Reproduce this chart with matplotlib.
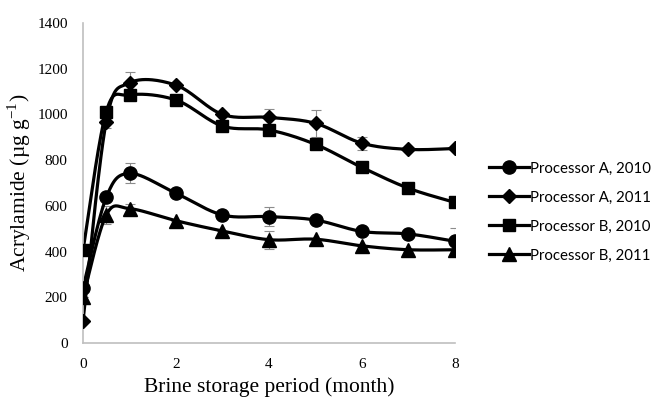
import numpy as np
import matplotlib
matplotlib.use("Agg")
import matplotlib.pyplot as plt
from matplotlib.lines import Line2D

months = [0, 0.5, 1, 2, 3, 4, 5, 6, 7, 8]

a_2010 = [240, 637, 742, 655, 560, 553, 538, 488, 477, 445]
a_2011 = [95, 968, 1138, 1128, 1000, 987, 961, 874, 847, 851]
b_2010 = [405, 1012, 1085, 1063, 949, 932, 869, 768, 677, 615]
b_2011 = [200, 560, 588, 535, 490, 452, 454, 425, 408, 408]

a_2010_err = [0, 0, 44, 0, 0, 41, 0, 0, 0, 58]
a_2011_err = [0, 26, 48, 0, 0, 35, 58, 29, 0, 0]
b_2010_err = [0, 0, 0, 0, 0, 0, 0, 0, 0, 0]
b_2011_err = [0, 40, 22, 0, 0, 40, 0, 0, 0, 0]

labels = ["Processor A, 2010", "Processor A, 2011",
          "Processor B, 2010", "Processor B, 2011"]
markers = ["o", "D", "s", "^"]
msizes = [9.5, 7.5, 9, 9.5]


def smooth(x, y, sx=46.5, sy=320 / 1400, n=30):
    # Excel-style smoothed line: Catmull-Rom / Bezier in screen space
    p = np.column_stack([np.array(x) * sx, np.array(y) * sy])
    out = [p[0]]
    for i in range(len(p) - 1):
        p0 = p[i - 1] if i > 0 else p[i]
        p1, p2 = p[i], p[i + 1]
        p3 = p[i + 2] if i + 2 < len(p) else p[i + 1]
        c1 = p1 + (p2 - p0) / 6
        c2 = p2 - (p3 - p1) / 6
        t = np.linspace(0, 1, n)[1:, None]
        seg = ((1 - t) ** 3 * p1 + 3 * (1 - t) ** 2 * t * c1
               + 3 * (1 - t) * t ** 2 * c2 + t ** 3 * p2)
        out.extend(seg)
    out = np.array(out)
    return out[:, 0] / sx, out[:, 1] / sy


fig = plt.figure(figsize=(6.53, 4.03), dpi=100)
ax = fig.add_axes([83 / 653, 60 / 403, (455 - 83) / 653, (343 - 23) / 403])

series = [a_2010, a_2011, b_2010, b_2011]
errs = [a_2010_err, a_2011_err, b_2010_err, b_2011_err]

for vals, err in zip(series, errs):
    ax.errorbar(months, vals, yerr=err, fmt="none", ecolor="#8c8c8c",
                elinewidth=0.8, capsize=3.5, capthick=0.8, zorder=1)

for vals, mk, ms in zip(series, markers, msizes):
    xs, ys = smooth(months, vals)
    ax.plot(xs, ys, color="black", lw=2.3, zorder=2)
    ax.plot(months, vals, ls="none", marker=mk, ms=ms, color="black", zorder=3)

ax.set_xlim(0, 8)
ax.set_ylim(0, 1400)
ax.set_xticks([0, 2, 4, 6, 8])
ax.set_yticks(range(0, 1401, 200))
for s in ["top", "right"]:
    ax.spines[s].set_visible(False)
for s in ["left", "bottom"]:
    ax.spines[s].set_color("#bfbfbf")
    ax.spines[s].set_linewidth(1.2)
ax.tick_params(length=0, labelsize=11)
ax.tick_params(axis="x", pad=11)
ax.tick_params(axis="y", pad=11)
for t in ax.get_xticklabels() + ax.get_yticklabels():
    t.set_fontfamily("Liberation Serif")

ax.set_xlabel("Brine storage period (month)", fontsize=15.5,
              family="Liberation Serif", labelpad=4)
ax.set_ylabel(r"Acrylamide (µg g$^{\mathregular{-1}}$)", fontsize=15.5,
              family="Liberation Serif", labelpad=3)

handles = [Line2D([], [], color="black", lw=2.3, marker=mk, ms=ms)
           for mk, ms in zip(markers, msizes)]
fig.legend(handles, labels, loc="center left",
           bbox_to_anchor=(475 / 653, 1 - 212 / 403), frameon=False,
           prop={"family": "Lato", "size": 10.8}, handlelength=2.7,
           handletextpad=0.1, labelspacing=1.0)

fig.savefig("out.png", dpi=100)
